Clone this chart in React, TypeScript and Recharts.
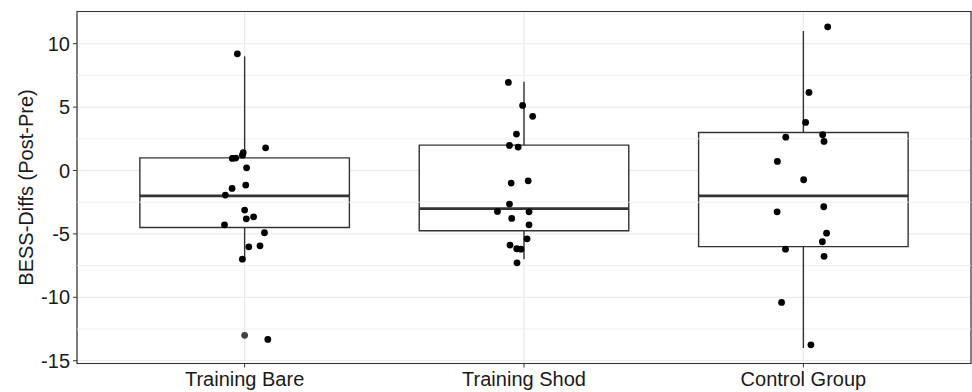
import {
  ScatterChart,
  Scatter,
  XAxis,
  YAxis,
  CartesianGrid,
  ReferenceArea,
  ReferenceLine,
} from "recharts"

const groups = ["Training Bare", "Training Shod", "Control Group"]
const groupPos = [1, 2, 3]

// box stats per group
const boxQ1 = [-4.5, -4.75, -6]
const boxMedian = [-2, -3, -2]
const boxQ3 = [1, 2, 3]
const whiskerLow = [-7, -7, -14]
const whiskerHigh = [9, 7, 11]
const outlierX = [1]
const outlierY = [-13]

// jittered points (x position, y value)
const bareX = [0.974, 0.995, 0.992, 1.075, 0.956, 0.968, 1.007, 1.004, 0.955, 0.931, 1.0, 1.006, 1.032, 0.928, 1.071, 1.015, 1.055, 0.992, 1.083]
const bareY = [9.2, 1.4, 1.21, 1.79, 0.95, 0.98, 0.21, -1.15, -1.41, -1.94, -3.12, -3.81, -3.65, -4.28, -4.91, -6.02, -5.94, -6.99, -13.32]
const shodX = [1.944, 1.995, 2.031, 1.973, 1.948, 1.979, 1.954, 2.015, 1.948, 1.905, 2.018, 1.956, 2.018, 2.011, 1.95, 1.974, 1.989, 1.975]
const shodY = [6.95, 5.13, 4.27, 2.87, 1.98, 1.85, -0.99, -0.81, -2.65, -3.23, -3.26, -3.78, -4.28, -5.39, -5.88, -6.17, -6.2, -7.28]
const controlX = [3.087, 3.02, 3.008, 2.937, 3.069, 3.074, 2.907, 3.001, 2.906, 3.073, 3.083, 3.068, 2.936, 3.074, 2.922, 3.027]
const controlY = [11.33, 6.16, 3.79, 2.63, 2.82, 2.29, 0.72, -0.73, -3.26, -2.86, -4.94, -5.62, -6.2, -6.77, -10.4, -13.75]

const yTicks = [-15, -10, -5, 0, 5, 10]
const yMinorTicks = [-12.5, -7.5, -2.5, 2.5, 7.5]
const yDomain = [-15.22, 12.54]
const xDomain = [0.4, 3.6]
const boxHalf = 0.375

const points = [
  ...bareX.map((x, i) => ({ x, y: bareY[i] })),
  ...shodX.map((x, i) => ({ x, y: shodY[i] })),
  ...controlX.map((x, i) => ({ x, y: controlY[i] })),
]
const outliers = outlierX.map((x, i) => ({ x, y: outlierY[i] }))

const TEXT = "#1a1a1a"
const LINE = "#333333"
const GRID = "#ebebeb"

// eslint-disable-next-line @typescript-eslint/no-explicit-any
function Dot(props: any) {
  return <circle cx={props.cx} cy={props.cy} r={3.4} fill="#000" />
}

// eslint-disable-next-line @typescript-eslint/no-explicit-any
function OutlierDot(props: any) {
  return <circle cx={props.cx} cy={props.cy} r={3.4} fill="#444" />
}

// eslint-disable-next-line @typescript-eslint/no-explicit-any
function YTitle(props: any) {
  const { viewBox } = props
  const x = 32.5
  const y = viewBox.y + viewBox.height / 2
  return (
    <text
      x={x}
      y={y}
      transform={`rotate(-90, ${x}, ${y})`}
      textAnchor="middle"
      fontSize={20}
      fill={TEXT}
    >
      BESS-Diffs (Post-Pre)
    </text>
  )
}

export default function App() {
  return (
    <div
      style={{
        position: "absolute",
        left: 0,
        top: 0,
        width: 972,
        height: 392,
        background: "#fff",
        fontFamily: "'Liberation Sans', Arial, sans-serif",
      }}
    >
      <ScatterChart width={972} height={392} margin={{ top: 11.5, right: 1, bottom: 0, left: 0 }}>
        <CartesianGrid stroke={GRID} strokeWidth={1.3} />
        {yMinorTicks.map((v) => (
          <ReferenceLine key={`m${v}`} y={v} stroke={GRID} strokeWidth={0.8} />
        ))}
        <XAxis
          type="number"
          dataKey="x"
          domain={xDomain}
          ticks={groupPos}
          tickFormatter={(v: number) => groups[v - 1]}
          allowDataOverflow
          height={28.5}
          axisLine={false}
          tickLine={{ stroke: LINE }}
          tickSize={4}
          tickMargin={4}
          tick={{ fontSize: 20, fill: TEXT }}
          interval={0}
        />
        <YAxis
          type="number"
          dataKey="y"
          domain={yDomain}
          ticks={yTicks}
          allowDataOverflow
          width={77}
          axisLine={false}
          tickLine={{ stroke: LINE }}
          tickSize={4}
          tickMargin={3}
          tick={{ fontSize: 20, fill: TEXT }}
          label={{ content: <YTitle /> }}
        />
        {groupPos.map((g, i) => (
          <ReferenceLine
            key={`wh${g}`}
            segment={[
              { x: g, y: boxQ3[i] },
              { x: g, y: whiskerHigh[i] },
            ]}
            stroke={LINE}
            strokeWidth={1.4}
          />
        ))}
        {groupPos.map((g, i) => (
          <ReferenceLine
            key={`wl${g}`}
            segment={[
              { x: g, y: whiskerLow[i] },
              { x: g, y: boxQ1[i] },
            ]}
            stroke={LINE}
            strokeWidth={1.4}
          />
        ))}
        {groupPos.map((g, i) => (
          <ReferenceArea
            key={`b${g}`}
            x1={g - boxHalf}
            x2={g + boxHalf}
            y1={boxQ1[i]}
            y2={boxQ3[i]}
            fill="#fff"
            fillOpacity={1}
            stroke={LINE}
            strokeWidth={1.4}
          />
        ))}
        {groupPos.map((g, i) => (
          <ReferenceLine
            key={`md${g}`}
            segment={[
              { x: g - boxHalf, y: boxMedian[i] },
              { x: g + boxHalf, y: boxMedian[i] },
            ]}
            stroke={LINE}
            strokeWidth={2.8}
          />
        ))}
        <Scatter data={outliers} shape={<OutlierDot />} isAnimationActive={false} />
        <Scatter data={points} shape={<Dot />} isAnimationActive={false} />
        <ReferenceArea
          x1={xDomain[0]}
          x2={xDomain[1]}
          y1={yDomain[0]}
          y2={yDomain[1]}
          fill="none"
          stroke={LINE}
          strokeWidth={1.2}
        />
      </ScatterChart>
    </div>
  )
}
